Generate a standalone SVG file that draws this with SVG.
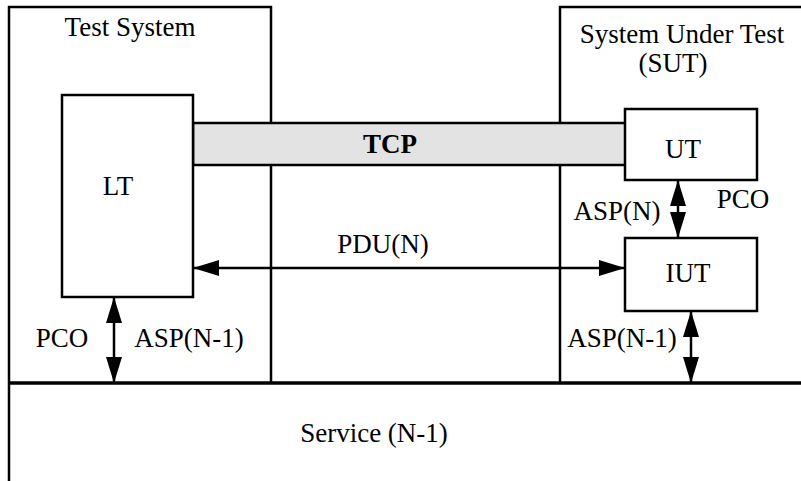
<svg xmlns="http://www.w3.org/2000/svg" width="801" height="481" viewBox="0 0 801 481">
<style>
text{font-family:Liberation Serif,Times New Roman,Times,serif;font-size:27px;fill:#000}
.box{fill:#fff;stroke:#000;stroke-width:2.5}
.ln{fill:none;stroke:#000;stroke-width:2.5}
.ar{fill:none;stroke:#000;stroke-width:2.5;marker-start:url(#ah);marker-end:url(#ah)}
</style>
<defs>
<marker id="ah" markerUnits="userSpaceOnUse" markerWidth="26" markerHeight="16" refX="25" refY="8" orient="auto-start-reverse" viewBox="0 0 26 16">
<path d="M0,0 L26,8 L0,16 z" fill="#000"/>
</marker>
</defs>
<g id="frame">
<path class="ln" d="M9,481 V7 H271 V383"/>
<path class="ln" d="M560,383 V7 H801"/>
<path d="M9,383 H801" fill="none" stroke="#000" stroke-width="3.5"/>
<text x="130" y="36" text-anchor="middle">Test System</text>
<text x="682" y="43" text-anchor="middle">System Under Test</text>
<text x="673" y="72" text-anchor="middle">(SUT)</text>
<text x="374" y="442" text-anchor="middle">Service (N-1)</text>
</g>
<g id="tcp">
<rect x="193" y="123" width="433" height="42" fill="#e3e3e3" stroke="#000" stroke-width="2.5"/>
<text x="390" y="153" text-anchor="middle" font-weight="bold">TCP</text>
</g>
<g id="lt">
<rect class="box" x="62" y="95" width="131" height="202"/>
<text x="118" y="195" text-anchor="middle">LT</text>
</g>
<g id="ut">
<rect class="box" x="625" y="109" width="132" height="71"/>
<text x="683" y="158" text-anchor="middle">UT</text>
</g>
<g id="iut">
<rect class="box" x="625" y="238" width="132" height="73"/>
<text x="688" y="282" text-anchor="middle">IUT</text>
</g>
<g id="connectors">
<line class="ar" x1="194" y1="268" x2="624" y2="268"/>
<line class="ar" x1="114" y1="298" x2="114" y2="382"/>
<line class="ar" x1="678" y1="181" x2="678" y2="237"/>
<line class="ar" x1="691" y1="312" x2="691" y2="382"/>
<text x="383" y="253" text-anchor="middle">PDU(N)</text>
<text x="62" y="347" text-anchor="middle">PCO</text>
<text x="189" y="347" text-anchor="middle">ASP(N-1)</text>
<text x="617" y="220" text-anchor="middle">ASP(N)</text>
<text x="743" y="208" text-anchor="middle">PCO</text>
<text x="622" y="347" text-anchor="middle">ASP(N-1)</text>
</g>
</svg>
